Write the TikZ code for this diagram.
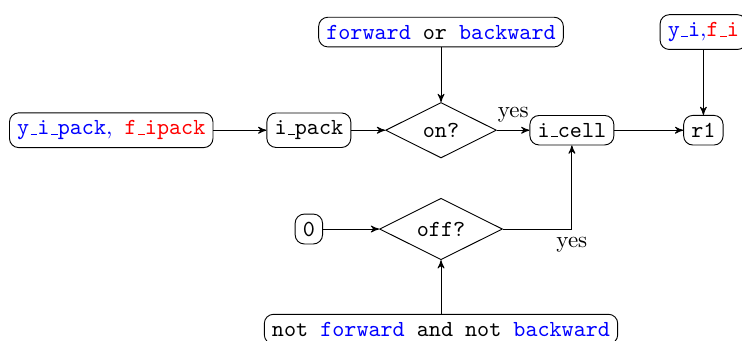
\documentclass[tikz,border=0pt]{standalone}
\usepackage{xcolor}
\usetikzlibrary{shapes,arrows,positioning}
\newcommand{\uscore}{\leavevmode\kern.06em\vbox{\hrule width.3em}}

\begin{document}
\begin{tikzpicture}[>=stealth',
    box/.style={draw, rounded corners, font=\ttfamily},
    test/.style={draw, diamond, aspect=2, font=\ttfamily}]
    \useasboundingbox (0,0) rectangle (11.34,-5.21);
    \clip (0,0) rectangle (11.34,-5.21);

    % Upper row
    \node[box] (in) at (1.70,-1.99) {{\color{blue}y\uscore i\uscore pack{\rmfamily,}} {\color{red}f\uscore ipack}};
    \node[box] (ipack) at (4.72,-1.99) {i\uscore pack};
    \node[test] (on) at (6.74,-1.99) {on?};
    \node[box] (icell) at (8.74,-1.99) {i\uscore cell};
    \node[box] (r1) at (10.75,-1.99) {r1};

    % Conditions
    \node[box] (fb) at (6.74,-0.49) {{\color{blue}forward} or {\color{blue}backward}};
    \node[box] (yf) at (10.75,-0.49) {{\color{blue}y\uscore i{\rmfamily,}}{\color{red}f\uscore i}};
    \node[box] (nfb) at (6.74,-5.03) {not {\color{blue}forward} and not {\color{blue}backward}};

    % Lower row
    \node[box] (zero) at (4.72,-3.50) {0};
    \node[test] (off) at (6.74,-3.50) {off?};

    % Arrows
    \draw[->] (in) -- (ipack);
    \draw[->] (ipack) -- (on);
    \draw[->] (on) -- node[above] {yes} (icell);
    \draw[->] (icell) -- (r1);
    \draw[->] (fb) -- (on);
    \draw[->] (yf) -- (r1);
    \draw[->] (zero) -- (off);
    \draw[->] (nfb) -- (off);
    \draw[->] (off) -| node[below, pos=0.5] {yes} (icell);
\end{tikzpicture}
\end{document}
